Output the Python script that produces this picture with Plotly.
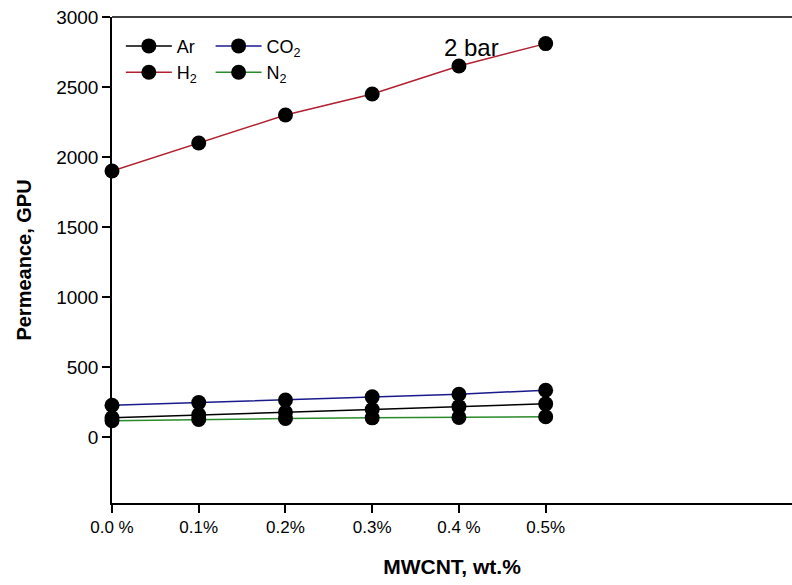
import plotly.graph_objects as go

x_vals = [0.0, 0.1, 0.2, 0.3, 0.4, 0.5]
tick_text = ["0.0 %", "0.1%", "0.2%", "0.3%", "0.4 %", "0.5%"]
ar = [138, 160, 178, 198, 218, 238]
co2 = [228, 247, 265, 288, 307, 335]
h2 = [1900, 2100, 2300, 2450, 2650, 2810]
n2 = [117, 126, 133, 138, 141, 146]

FONT = "Arial, Liberation Sans, sans-serif"

series = [
    ("Ar", ar, "#000000", "legend"),
    ("H<sub>2</sub>", h2, "#b02030", "legend"),
    ("CO<sub>2</sub>", co2, "#1a1a8c", "legend2"),
    ("N<sub>2</sub>", n2, "#2a8a2a", "legend2"),
]

fig = go.Figure()
for name, ys, color, leg in series:
    fig.add_trace(go.Scatter(
        x=x_vals, y=ys, name=name, mode="lines+markers",
        line=dict(color=color, width=1.5),
        marker=dict(color="black", size=15, symbol="circle"),
        legend=leg, cliponaxis=False,
    ))

fig.update_layout(
    width=792, height=585,
    margin=dict(l=112, r=0, t=17, b=82),
    paper_bgcolor="white", plot_bgcolor="white",
    font=dict(family=FONT, color="black"),
    legend=dict(x=0.013, y=0.978, xanchor="left", yanchor="top",
                font=dict(size=18, family=FONT), bgcolor="rgba(0,0,0,0)",
                tracegroupgap=0, itemwidth=46),
    legend2=dict(x=0.145, y=0.978, xanchor="left", yanchor="top",
                 font=dict(size=18, family=FONT), bgcolor="rgba(0,0,0,0)",
                 tracegroupgap=0, itemwidth=46),
    annotations=[dict(x=0.414, y=2785, xref="x", yref="y", text="2 bar",
                      showarrow=False, font=dict(size=24, family=FONT))],
    shapes=[dict(type="line", xref="paper", yref="paper", x0=0, x1=1.02,
                 y0=1, y1=1, line=dict(color="black", width=1.5))],
)

fig.update_xaxes(
    range=[0, 0.784], tickvals=x_vals, ticktext=tick_text, automargin=False,
    ticklabeloverflow="allow",
    showgrid=False, zeroline=False, showline=True, linecolor="black",
    linewidth=1.5, mirror=False, ticks="outside", ticklen=8, tickwidth=1.5,
    tickcolor="black", tickfont=dict(size=17, family=FONT),
    title=dict(text="<b>MWCNT, wt.%</b>", font=dict(size=21, family=FONT),
               standoff=23),
)
fig.update_yaxes(
    range=[-470, 3000], tickvals=[0, 500, 1000, 1500, 2000, 2500, 3000],
    automargin=False, ticklabeloverflow="allow",
    showgrid=False, zeroline=False, showline=True, linecolor="black",
    linewidth=1.5, mirror=False, ticks="outside", ticklen=8, tickwidth=1.5,
    tickcolor="black", tickfont=dict(size=19, family=FONT),
    title=dict(text="<b>Permeance, GPU</b>", font=dict(size=20, family=FONT),
               standoff=19),
)

fig.write_html(
    "out.html",
    config={"displayModeBar": False},
    post_script="document.body.style.margin='0px';document.body.style.overflow='hidden';",
)
